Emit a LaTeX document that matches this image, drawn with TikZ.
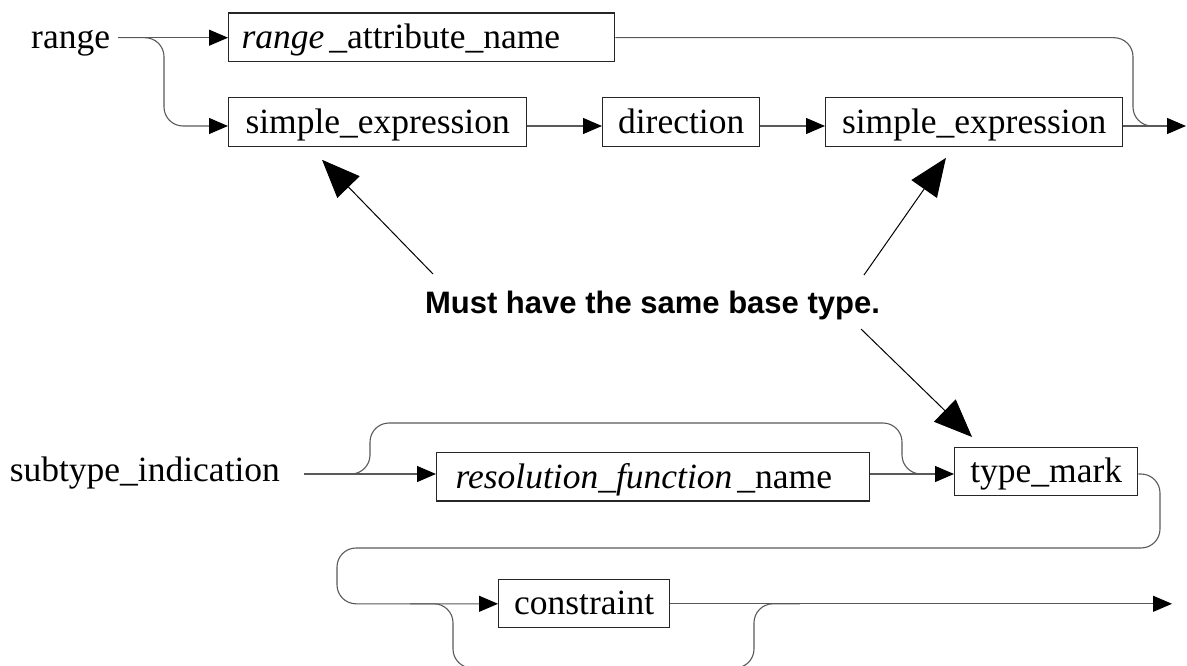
\documentclass[tikz,border=0pt]{standalone}
\usepackage{fontspec}
\setmainfont{Liberation Serif}
\newfontfamily\notefont{Liberation Sans}
\usetikzlibrary{arrows.meta,calc}

\begin{document}
\begin{tikzpicture}[x=1pt,y=-1pt,
  wire/.style={draw=black!65, line width=1.1pt},
  flow/.style={wire, -{Triangle[length=19pt,width=16pt,color=black]}},
  box/.style={draw=black!85, line width=1.3pt, inner xsep=0pt, inner ysep=0pt,
    text height=35.8pt, text depth=12.8pt, anchor=north west,
    font=\fontsize{35.5pt}{40pt}\selectfont},
  lbl/.style={inner sep=0pt, anchor=base west, font=\fontsize{35.5pt}{40pt}\selectfont},
  note/.style={inner sep=0pt, anchor=base, font=\notefont\bfseries\fontsize{31pt}{36pt}\selectfont},
  pointer/.style={draw=black, line width=1pt, -{Triangle[length=38pt,width=31pt]}}
]
\useasboundingbox (0,0) rectangle (1187,666);
\clip (0,0) rectangle (1187,666);

% rule "range"
\node[lbl] (range) at (31,48.3) {range};
\node[box, minimum width=386pt, inner xsep=13pt] (b1) at (228,12.3)
  {\makebox[360pt][l]{\textit{range}\hspace{5pt}\_attribute\_name}};
\node[box, minimum width=298pt] (b2) at (228,97) {simple\_expression};
\node[box, minimum width=157pt] (b3) at (602,97) {direction};
\node[box, minimum width=297pt] (b4) at (825,97) {simple\_expression};

% rule "subtype_indication"
\node[lbl] (sub) at (9.6,481.7) {subtype\_indication};
\node[box, minimum width=433pt, inner xsep=19pt] (b5) at (436,451.7)
  {\makebox[395pt][l]{\textit{resolution\_function}\hspace{5pt}\_name}};
\node[box, minimum width=183pt] (b6) at (954,446.5) {type\_mark};
\node[box, minimum width=171pt] (b7) at (498,578.5) {constraint};

% remark
\node[note] (note) at (652.5,313) {Must have the same base type.};

% track levels and bends
\coordinate (r1) at (0,37.7);
\coordinate (r2) at (0,126);
\coordinate (r3) at (0,474);
\coordinate (r4) at (0,603.8);
\coordinate (p1) at (118,37.7);
\coordinate (v1) at (164,0);
\coordinate (v2) at (1133,0);
\coordinate (j1) at (1166,126);
\coordinate (end1) at (1186,126);
\coordinate (p2) at (304,474);
\coordinate (v3) at (370,423);
\coordinate (v4) at (902,423);
\coordinate (j2) at (935,474);
\coordinate (v5) at (1160,548);
\coordinate (v6) at (337,548);
\coordinate (end2) at (1172,603.8);
\coordinate (s1) at (410,603.8);
\coordinate (v7) at (453,668);
\coordinate (v8) at (754,668);
\coordinate (s2) at (800,603.8);
\coordinate (t1) at (433,274);
\coordinate (t2) at (864,275);
\coordinate (t3) at (861,329);

% range
\draw[flow] (p1) -- (b1.west |- r1);
\draw[flow, rounded corners=19pt] (p1) -| (v1 |- r2) -- (b2.west |- r2);
\draw[flow] (b2.east |- r2) -- (b3.west |- r2);
\draw[flow] (b3.east |- r2) -- (b4.west |- r2);
\draw[flow] (b4.east |- r2) -- (end1);
\draw[wire, rounded corners=19pt] (b1.east |- r1) -| (v2 |- r2) -- (j1);

% subtype_indication
\draw[flow] (p2) -- (b5.west |- r3);
\draw[wire, rounded corners=19pt] (p2) -| (v3) -| (v4 |- r3) -- (j2);
\draw[flow] (b5.east |- r3) -- (b6.west |- r3);
\draw[flow, rounded corners=19pt] (b6.east |- r3) -| (v5) -| (v6 |- r4) -- (b7.west |- r4);
\draw[flow] (b7.east |- r4) -- (end2);
\draw[wire, rounded corners=19pt] (s1) -| (v7) -| (v8 |- r4) -- (s2);

% pointers from the remark
\draw[pointer, shorten >=18pt] (t1) -- ($(b2.south west)+(81.5,0)$);
\draw[pointer, shorten >=13.4pt] (t2) -- ($(b4.south west)+(128.6,0)$);
\draw[pointer, shorten >=13.6pt] (t3) -- ($(b6.north west)+(27.8,0)$);
\end{tikzpicture}
\end{document}
